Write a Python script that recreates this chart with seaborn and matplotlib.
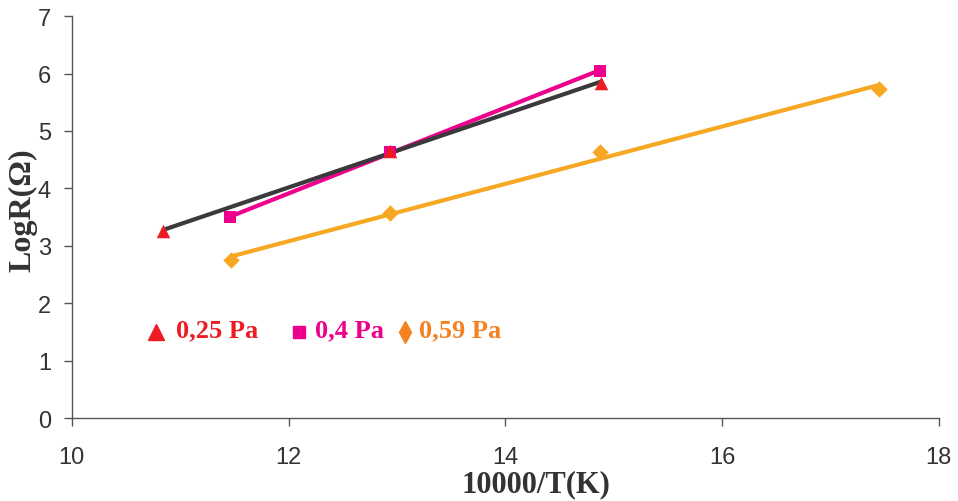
import numpy as np
import pandas as pd
import seaborn as sns
from matplotlib import pyplot as plt

# data
x_025 = [10.84, 12.94, 14.88]
y_025 = [3.26, 4.65, 5.84]
x_04 = [11.46, 12.94, 14.87]
y_04 = [3.50, 4.63, 6.05]
x_059 = [11.47, 12.94, 14.87, 17.45]
y_059 = [2.75, 3.57, 4.63, 5.73]
labels = ["0,25 Pa", "0,4 Pa", "0,59 Pa"]

sns.set_style("ticks")
plt.rcParams["font.family"] = ["Liberation Sans", "DejaVu Sans"]

fig = plt.figure(figsize=(9.58, 5.02), dpi=100)
ax = fig.add_axes([0.075, 0.165, 0.905, 0.801])

# (x, y, marker, marker colour, line colour, size)
series = {
    "0,4 Pa": (x_04, y_04, "s", "#EC008C", "#EC008C", 64),
    "0,25 Pa": (x_025, y_025, "^", "#ED1C24", "#3A3A3C", 95),
    "0,59 Pa": (x_059, y_059, "D", "#F7A823", "#F7A823", 70),
}

# linear trendlines
for xs, ys, m, mc, lc, s in series.values():
    k, b = np.polyfit(xs, ys, 1)
    xf = np.array([min(xs), max(xs)])
    fit = pd.DataFrame({"x": xf, "y": k * xf + b})
    sns.lineplot(data=fit, x="x", y="y", color=lc, linewidth=3, ax=ax, zorder=2)

for xs, ys, m, mc, lc, s in series.values():
    pts = pd.DataFrame({"x": xs, "y": ys})
    sns.scatterplot(data=pts, x="x", y="y", marker=m, color=mc, s=s,
                    linewidth=0, ax=ax, zorder=3)

ax.set_xlim(10, 18)
ax.set_ylim(0, 7)
ax.set_xticks([10, 12, 14, 16, 18])
ax.set_yticks(range(0, 8))
ax.tick_params(labelsize=17, length=6, width=1, color="#555555",
               labelcolor="#333333")
ax.tick_params(axis="x", pad=14)
ax.tick_params(axis="y", pad=9)
for sp in ["top", "right"]:
    ax.spines[sp].set_visible(False)
for sp in ["left", "bottom"]:
    ax.spines[sp].set_color("#555555")
    ax.spines[sp].set_linewidth(1)

ax.set_xlabel("10000/T(K)", fontsize=22, fontweight="bold",
              family="Liberation Serif", color="#333333")
ax.set_ylabel("LogR(Ω)", fontsize=23, fontweight="bold",
              family="Liberation Serif", color="#333333")
ax.xaxis.set_label_coords(0.535, -0.128)
ax.yaxis.set_label_coords(-0.040, 0.52)

# in-plot legend
leg = [
    (10.775, "^", "#ED1C24", 12, "#ED1C24", 10.965),
    (12.094, "s", "#EC008C", 8.5, "#EC008C", 12.24),
    (13.072, "d", "#F58220", 11, "#F58220", 13.205),
]
for (mx, m, mc, ms, tc, tx), lab in zip(leg, labels):
    ax.plot([mx], [1.5], marker=m, color=mc, markersize=ms, linestyle="none",
            clip_on=False)
    ax.text(tx, 1.53, lab, color=tc, fontsize=19, fontweight="bold",
            family="Liberation Serif", va="center", ha="left")

fig.savefig("out.png", dpi=100)
